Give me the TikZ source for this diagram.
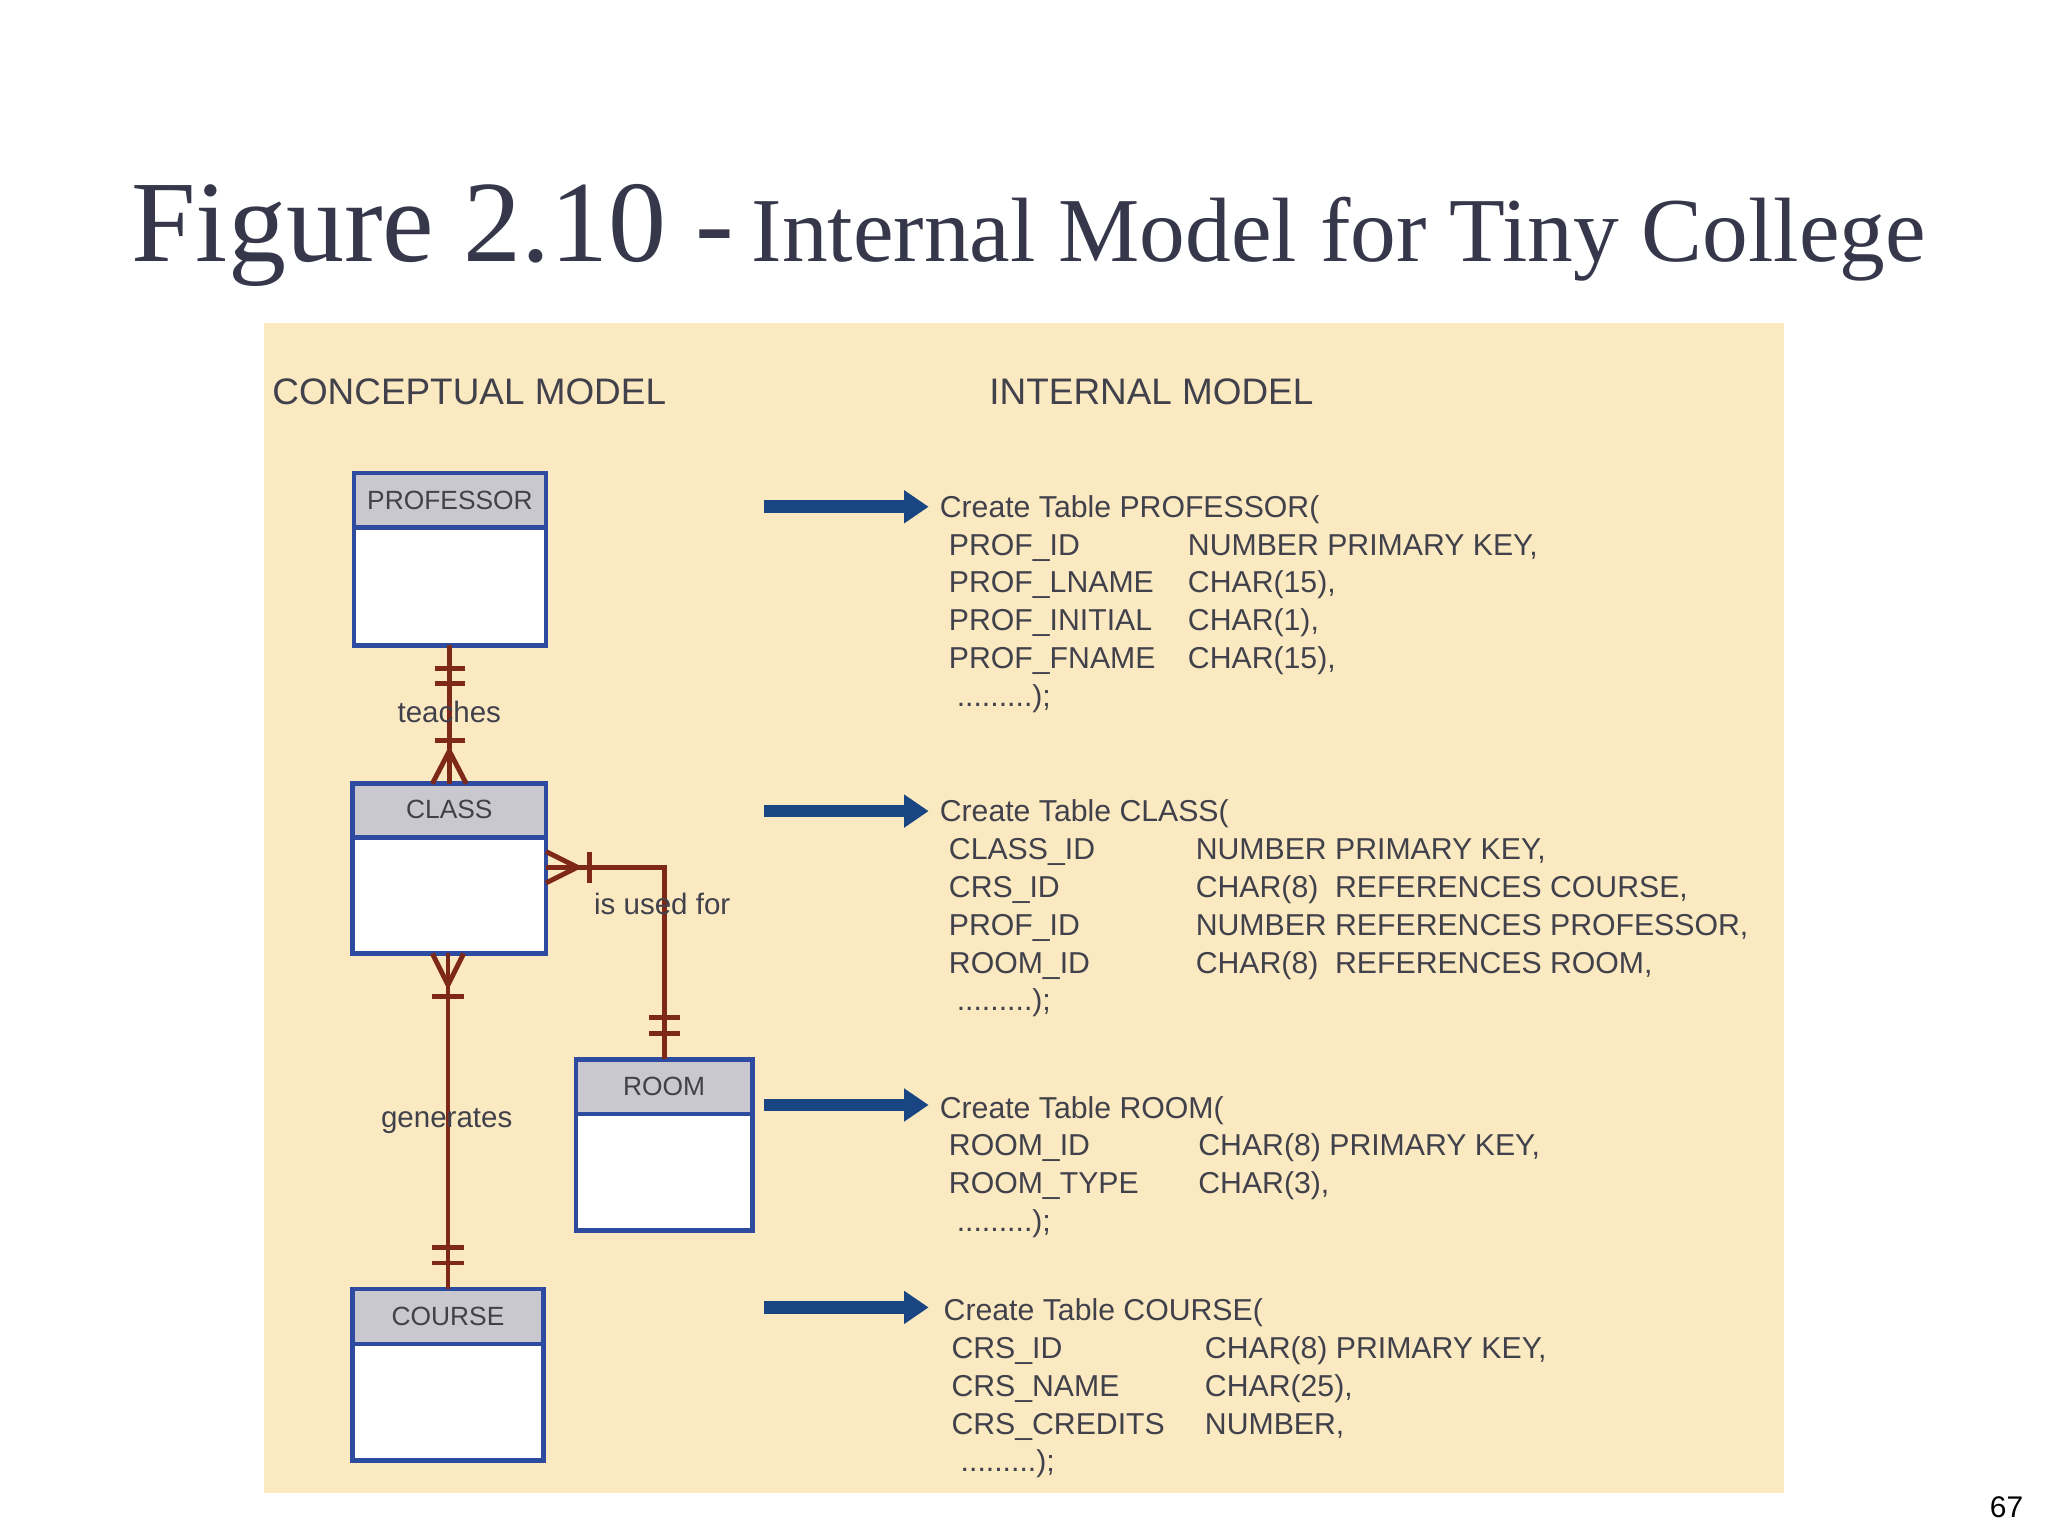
\documentclass[tikz,border=0pt]{standalone}
\usepackage{fontspec}
\setmainfont{Liberation Serif}
\setsansfont{Liberation Sans}
\usetikzlibrary{calc,arrows.meta}
\definecolor{paper}{RGB}{250,233,193}
\definecolor{entblue}{RGB}{45,75,160}
\definecolor{hdrgray}{RGB}{200,200,206}
\definecolor{relred}{RGB}{125,40,25}
\definecolor{arrblue}{RGB}{25,70,130}
\definecolor{ink}{RGB}{65,65,75}
\definecolor{titleink}{RGB}{55,55,75}
\tikzset{
  ent/.style={draw=entblue,line width=1.3pt,fill=white,inner sep=0pt},
  hdr/.style={draw=entblue,line width=1.3pt,fill=hdrgray,inner sep=0pt,font=\sffamily\fontsize{7.5}{8}\selectfont,text=ink},
  rel/.style={draw=relred,line width=1.4pt},
  code/.style={anchor=base west,font=\sffamily\fontsize{8.6}{10}\selectfont,text=ink,inner sep=0pt},
  bigarrow/.style={draw=arrblue,line width=3.6pt,-{Triangle[length=7pt,width=9pt]}},
  rlabel/.style={font=\sffamily\fontsize{8.4}{10}\selectfont,text=ink,inner sep=0pt}
}
\begin{document}
\begin{tikzpicture}[x=0.01306cm,y=-0.01306cm]
\useasboundingbox (0,0) rectangle (1568,1176);
\fill[white] (0,0) rectangle (1568,1176);

% title
\node[anchor=base west,inner sep=0pt,text=titleink,font=\fontsize{33}{36}\selectfont] (title) at (100,200) {Figure 2.10 -};
\node[anchor=base west,inner sep=0pt,text=titleink,font=\fontsize{26}{30}\selectfont] (subtitle) at (575,200) {Internal Model for Tiny College};

% panel
\fill[paper] (202,247) rectangle (1366,1143);
\node[code,font=\sffamily\fontsize{10.5}{12}\selectfont] (cm) at (208,310) {CONCEPTUAL MODEL};
\node[code,font=\sffamily\fontsize{10.5}{12}\selectfont] (im) at (757,310) {INTERNAL MODEL};

% entities
\draw[ent] (271,362) rectangle (418,494);
\draw[hdr] (271,362) rectangle (418,404);
\node[hdr,draw=none,fill=none] (profh) at (344.5,383) {PROFESSOR};
\coordinate (prof) at (344,494);

\draw[ent] (270,600) rectangle (418,730);
\draw[hdr] (270,600) rectangle (418,641);
\node[hdr,draw=none,fill=none] (classh) at (344,620) {CLASS};

\draw[ent] (441,811) rectangle (576,942);
\draw[hdr] (441,811) rectangle (576,853);
\node[hdr,draw=none,fill=none] (roomh) at (508.5,832) {ROOM};

\draw[ent] (270,987) rectangle (416,1118);
\draw[hdr] (270,987) rectangle (416,1029);
\node[hdr,draw=none,fill=none] (courseh) at (343,1008) {COURSE};

% relationships
\coordinate (classtop) at (344,600);
\coordinate (classright) at (418,664);
\coordinate (corner) at (509,664);
\coordinate (roomtop) at (509,811);
\coordinate (classbot) at (343,730);
\coordinate (coursetop) at (343,987);

\draw[rel] (prof) -- (classtop);
\draw[rel] (333,512) -- (356,512) (333,523) -- (356,523);
\draw[rel] (344,575) -- (331,600) (344,575) -- (357,600);
\draw[rel] (333,567) -- (356,567);
\node[rlabel] (teaches) at (344,545) {teaches};

\draw[rel] (classright) -- (corner) -- (roomtop);
\draw[rel] (442,664) -- (418,652) (442,664) -- (418,676);
\draw[rel] (451,652) -- (451,676);
\draw[rel] (497,779) -- (521,779) (497,791) -- (521,791);
\node[rlabel] (usedfor) at (507,692) {is used for};

\draw[rel] (classbot) -- (coursetop);
\draw[rel] (343,754) -- (331,730) (343,754) -- (355,730);
\draw[rel] (331,763) -- (355,763);
\draw[rel] (331,955) -- (355,955) (331,967) -- (355,967);
\node[rlabel] (generates) at (342,858) {generates};

% arrows
\foreach \y/\n in {388/a1,621/a2,846/a3,1001/a4}{
  \coordinate (\n s) at (585,\y);
  \coordinate (\n e) at (711,\y);
  \draw[bigarrow] (\n s) -- (\n e);
}

% internal model code
\node[code] (t1) at (719,396) {Create Table PROFESSOR(};
\foreach \i/\a/\b in {1/PROF\_ID/{NUMBER PRIMARY KEY,},2/PROF\_LNAME/{CHAR(15),},3/PROF\_INITIAL/{CHAR(1),},4/PROF\_FNAME/{CHAR(15),}}{
  \node[code] at (726,396+29*\i) {\a};
  \node[code] at (909,396+29*\i) {\b};
}
\node[code] (e1) at (732,541) {.........);};

\node[code] (t2) at (719,629) {Create Table CLASS(};
\foreach \i/\a/\b in {1/CLASS\_ID/{NUMBER PRIMARY KEY,},2/CRS\_ID/{CHAR(8)\ \ REFERENCES COURSE,},3/PROF\_ID/{NUMBER REFERENCES PROFESSOR,},4/ROOM\_ID/{CHAR(8)\ \ REFERENCES ROOM,}}{
  \node[code] at (726,629+29*\i) {\a};
  \node[code] at (915,629+29*\i) {\b};
}
\node[code] (e2) at (732,774) {.........);};

\node[code] (t3) at (719,856) {Create Table ROOM(};
\foreach \i/\a/\b in {1/ROOM\_ID/{CHAR(8) PRIMARY KEY,},2/ROOM\_TYPE/{CHAR(3),}}{
  \node[code] at (726,856+29*\i) {\a};
  \node[code] at (917,856+29*\i) {\b};
}
\node[code] (e3) at (732,943) {.........);};

\node[code] (t4) at (722,1011) {Create Table COURSE(};
\foreach \i/\a/\b in {1/CRS\_ID/{CHAR(8) PRIMARY KEY,},2/CRS\_NAME/{CHAR(25),},3/CRS\_CREDITS/{NUMBER,}}{
  \node[code] at (728,1011+29*\i) {\a};
  \node[code] at (922,1011+29*\i) {\b};
}
\node[code] (e4) at (735,1127) {.........);};

\node[code,font=\sffamily\fontsize{8.5}{10}\selectfont,text=black] (page) at (1523,1162) {67};
\end{tikzpicture}
\end{document}
